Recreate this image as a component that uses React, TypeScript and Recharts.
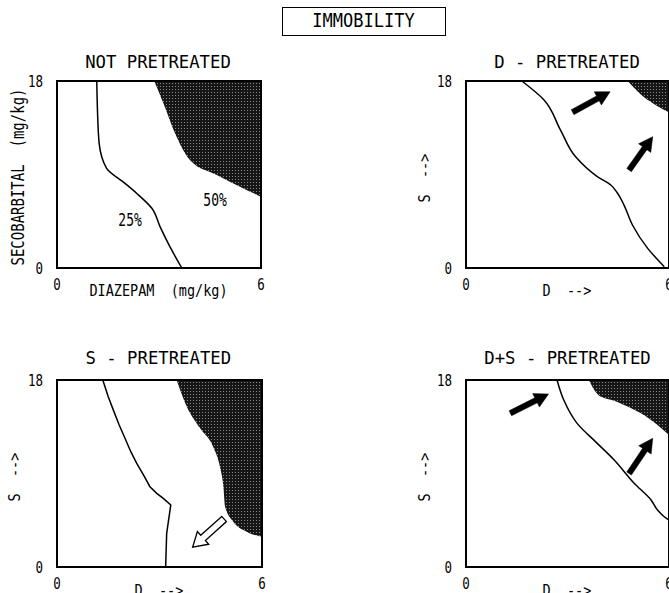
import { ComposedChart, XAxis, YAxis, Line, Area, Scatter, ReferenceArea, ReferenceLine } from 'recharts'

const FONT = '"DejaVu Sans Mono", monospace'

const xTicks = [0, 6]
const yTicks = [0, 18]

// 25% / 50% contours, x = diazepam (mg/kg), y = secobarbital (mg/kg)
const notContour = [
	{ x: 3.67, y: 0 }, { x: 3.32, y: 2.05 }, { x: 3.03, y: 3.98 }, { x: 2.79, y: 5.75 },
	{ x: 2.34, y: 7.2 }, { x: 2.0, y: 8.15 }, { x: 1.46, y: 9.6 }, { x: 1.24, y: 12 },
	{ x: 1.19, y: 15.2 }, { x: 1.17, y: 18 },
]
const notShade = [
	{ x: 2.86, y: 18 }, { x: 3.13, y: 15.85 }, { x: 3.47, y: 12.97 }, { x: 3.91, y: 10.4 },
	{ x: 4.7, y: 8.95 }, { x: 5.38, y: 7.83 }, { x: 6, y: 6.86 },
]
const notLabels = [
	{ x: 2.15, y: 4.6, label: '25%' },
	{ x: 4.65, y: 6.5, label: '50%' },
]

const dContour = [
	{ x: 5.86, y: 0.13 }, { x: 5.37, y: 1.89 }, { x: 4.92, y: 4.14 }, { x: 4.67, y: 6.06 },
	{ x: 4.48, y: 7.19 }, { x: 4.28, y: 7.99 }, { x: 3.88, y: 8.8 }, { x: 3.24, y: 10.7 },
	{ x: 2.79, y: 13.3 }, { x: 2.3, y: 16.2 }, { x: 1.65, y: 18 },
]
const dShade = [
	{ x: 4.78, y: 18 }, { x: 4.95, y: 17.4 }, { x: 5.2, y: 16.6 }, { x: 5.5, y: 15.9 },
	{ x: 5.75, y: 15.4 }, { x: 6, y: 15.0 },
]
const dArrows = [
	{ x1: 3.15, y1: 15.0, x2: 4.26, y2: 16.97 },
	{ x1: 4.82, y1: 9.43, x2: 5.52, y2: 12.64 },
]

const sContour = [
	{ x: 1.34, y: 18 }, { x: 1.5, y: 16.39 }, { x: 1.65, y: 15.1 }, { x: 1.82, y: 13.67 },
	{ x: 1.99, y: 12.4 }, { x: 2.16, y: 11.1 }, { x: 2.33, y: 10 }, { x: 2.53, y: 8.86 },
	{ x: 2.72, y: 7.73 }, { x: 2.92, y: 7.09 }, { x: 3.11, y: 6.6 }, { x: 3.33, y: 5.97 },
	{ x: 3.21, y: 3.24 }, { x: 3.18, y: 0 },
]
const sShade = [
	{ x: 3.5, y: 18 }, { x: 3.8, y: 15.43 }, { x: 4.19, y: 13.35 }, { x: 4.57, y: 11.58 },
	{ x: 4.77, y: 9.65 }, { x: 4.87, y: 7.73 }, { x: 4.92, y: 5.8 }, { x: 5.16, y: 4.36 },
	{ x: 5.55, y: 3.4 }, { x: 6, y: 2.92 },
]
const sArrows = [{ x1: 4.89, y1: 4.62, x2: 3.97, y2: 1.9 }]

const dsContour = [
	{ x: 6, y: 4.52 }, { x: 5.86, y: 4.84 }, { x: 5.66, y: 5.49 }, { x: 5.47, y: 6.45 },
	{ x: 4.97, y: 8.06 }, { x: 4.38, y: 10.3 }, { x: 3.88, y: 11.9 }, { x: 3.29, y: 13.8 },
	{ x: 2.89, y: 16.07 }, { x: 2.69, y: 18 },
]
const dsShade = [
	{ x: 3.63, y: 18 }, { x: 3.8, y: 17.0 }, { x: 3.98, y: 16.4 }, { x: 4.38, y: 16.0 },
	{ x: 4.6, y: 15.7 }, { x: 5.17, y: 14.8 }, { x: 5.66, y: 13.67 }, { x: 6, y: 12.7 },
]
const dsArrows = [
	{ x1: 1.31, y1: 14.8, x2: 2.44, y2: 16.65 },
	{ x1: 4.82, y1: 9.0, x2: 5.52, y2: 12.39 },
]

const PLOT_H = 187

const Txt = ({ x, y, size, sy = 1.2, rotate = false, children }: any) => (
	<div
		style={{
			position: 'absolute',
			left: x,
			top: y,
			transform: `translate(-50%,-50%)${rotate ? ' rotate(-90deg)' : ''} scale(1,${sy})`,
			fontFamily: FONT,
			fontSize: size,
			lineHeight: 1,
			whiteSpace: 'pre',
			color: '#000',
		}}
	>
		{children}
	</div>
)

const TickText = ({ x, y, payload, anchor }: any) => (
	<g transform={`translate(${x},${y})`}>
		<text transform="scale(1,1.25)" textAnchor={anchor} dominantBaseline="central" fontFamily={FONT} fontSize={12.5} fill="#000">
			{payload.value}
		</text>
	</g>
)

const arrowShape = (hollow: boolean) => (p: any) => {
	const { x1, y1, x2, y2 } = p
	const dx = x2 - x1
	const dy = y2 - y1
	const len = Math.sqrt(dx * dx + dy * dy)
	const ux = dx / len
	const uy = dy / len
	const nx = -uy
	const ny = ux
	const sw = hollow ? 3.5 : 2.8
	const hw = hollow ? 8.5 : 7.5
	const hl = 14
	const bx = x2 - ux * hl
	const by = y2 - uy * hl
	const pts = [
		[x1 + nx * sw, y1 + ny * sw],
		[bx + nx * sw, by + ny * sw],
		[bx + nx * hw, by + ny * hw],
		[x2, y2],
		[bx - nx * hw, by - ny * hw],
		[bx - nx * sw, by - ny * sw],
		[x1 - nx * sw, y1 - ny * sw],
	]
		.map((q) => q.join(','))
		.join(' ')
	return <polygon points={pts} fill={hollow ? '#fff' : '#000'} stroke="#000" strokeWidth={hollow ? 1.3 : 0.5} />
}

const Panel = ({ id, plotLeft, plotTop, plotW, contour, curve = 'monotoneY', shade, arrows = [], hollow = false, labels = [] }: any) => (
	<div style={{ position: 'absolute', left: plotLeft - 57, top: plotTop - 20 }}>
		<ComposedChart width={57 + plotW + 10} height={20 + PLOT_H + 32} margin={{ top: 20, right: 10, bottom: 0, left: 0 }}>
			<defs>
				<pattern id={`stip-${id}`} width={3} height={3} patternUnits="userSpaceOnUse">
					<rect width={3} height={3} fill="#161616" />
					<rect x={1} y={1} width={1} height={1} fill="#8a8a8a" />
				</pattern>
			</defs>
			<XAxis
				type="number"
				dataKey="x"
				domain={[0, 6]}
				ticks={xTicks}
				height={32}
				axisLine={false}
				tickLine={false}
				tickSize={0}
				tickMargin={16}
				tick={(p: any) => <TickText {...p} anchor="middle" />}
			/>
			<YAxis
				type="number"
				dataKey="y"
				domain={[0, 18]}
				ticks={yTicks}
				width={57}
				axisLine={false}
				tickLine={false}
				tickSize={0}
				tickMargin={14}
				tick={(p: any) => <TickText {...p} anchor="end" />}
			/>
			<Area
				data={shade}
				dataKey={(d: any) => [d.y, 18]}
				type="monotone"
				stroke="none"
				fill={`url(#stip-${id})`}
				fillOpacity={1}
				isAnimationActive={false}
			/>
			<Line data={contour} dataKey="y" type={curve} stroke="#000" strokeWidth={1.5} dot={false} isAnimationActive={false} />
			{labels.length > 0 && (
				<Scatter
					data={labels}
					isAnimationActive={false}
					shape={(p: any) => (
						<g transform={`translate(${p.cx},${p.cy})`}>
							<text transform="scale(1,1.3)" textAnchor="middle" dominantBaseline="central" fontFamily={FONT} fontSize={13} fill="#000">
								{p.payload.label}
							</text>
						</g>
					)}
				/>
			)}
			{arrows.map((a: any, i: number) => (
				<ReferenceLine
					key={i}
					segment={[
						{ x: a.x1, y: a.y1 },
						{ x: a.x2, y: a.y2 },
					]}
					shape={arrowShape(hollow)}
				/>
			))}
			<ReferenceArea x1={0} x2={6} y1={0} y2={18} fill="none" stroke="#000" strokeWidth={2} />
		</ComposedChart>
	</div>
)

export default function App() {
	return (
		<div style={{ position: 'absolute', left: 0, top: 0, width: 669, height: 593, overflow: 'hidden', background: '#fff' }}>
			<div style={{ position: 'absolute', left: 282, top: 7, width: 162, height: 27, border: '1px solid #000' }} />
			<Txt x={363.5} y={21} size={17} sy={1.15}>IMMOBILITY</Txt>

			<Txt x={158} y={61.7} size={17.3} sy={1.05}>NOT PRETREATED</Txt>
			<Txt x={567} y={61.7} size={17.3} sy={1.05}>D - PRETREATED</Txt>
			<Txt x={158.3} y={357.5} size={17.3} sy={1.05}>S - PRETREATED</Txt>
			<Txt x={567.5} y={357.5} size={17.3} sy={1.05}>D+S - PRETREATED</Txt>

			<Panel id="a" plotLeft={57} plotTop={81} plotW={204} contour={notContour} shade={notShade} labels={notLabels} />
			<Panel id="b" plotLeft={466} plotTop={81} plotW={203} contour={dContour} shade={dShade} arrows={dArrows} />
			<Panel id="c" plotLeft={57} plotTop={380} plotW={205} contour={sContour} curve="linear" shade={sShade} arrows={sArrows} hollow />
			<Panel id="d" plotLeft={466} plotTop={380} plotW={203} contour={dsContour} shade={dsShade} arrows={dsArrows} />

			<Txt x={158.5} y={291} size={13.5} sy={1.2}>DIAZEPAM  (mg/kg)</Txt>
			<Txt x={567} y={291} size={13.5} sy={1.2}>D  --&gt;</Txt>
			<Txt x={159} y={591} size={13.5} sy={1.2}>D  --&gt;</Txt>
			<Txt x={567} y={591} size={13.5} sy={1.2}>D  --&gt;</Txt>

			<Txt x={17.5} y={177} size={14} sy={1.2} rotate>SECOBARBITAL  (mg/kg)</Txt>
			<Txt x={425} y={177.5} size={13.5} sy={1.2} rotate>S  --&gt;</Txt>
			<Txt x={15} y={476.7} size={13.5} sy={1.2} rotate>S  --&gt;</Txt>
			<Txt x={425} y={476.7} size={13.5} sy={1.2} rotate>S  --&gt;</Txt>
		</div>
	)
}
